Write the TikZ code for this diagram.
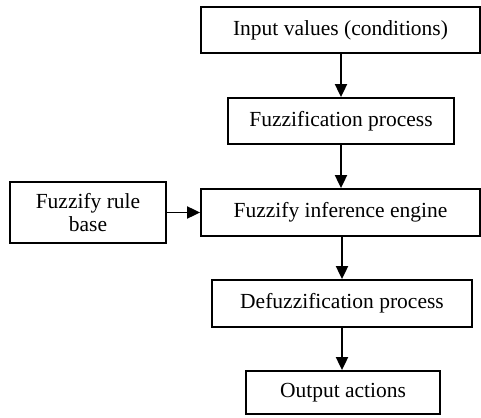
\documentclass[tikz,border=0pt]{standalone}
\usepackage{fontspec}
\setmainfont{Liberation Serif}
\usetikzlibrary{arrows.meta}
\begin{document}
\begin{tikzpicture}[x=1pt,y=1pt,
  box/.style={draw=black, line width=1.8pt, rectangle, inner sep=0pt, align=center, font=\fontsize{21.5}{23}\selectfont},
  arr/.style={line width=1.9pt, -{Triangle[length=13pt,width=12pt]}}]
\useasboundingbox (0,0) rectangle (481,417);
\node[box, minimum width=279pt, minimum height=46pt] (b1) at (340.5,387) {Input values (conditions)};
\node[box, minimum width=226pt, minimum height=46pt] (b2) at (341,296) {Fuzzification process};
\node[box, minimum width=279pt, minimum height=47pt] (b3) at (340.5,204.5) {Fuzzify inference engine};
\node[box, minimum width=156pt, minimum height=61pt] (rb) at (88,204.5) {Fuzzify rule\\base};
\node[box, minimum width=260pt, minimum height=47pt] (b4) at (342,113.5) {Defuzzification process};
\node[box, minimum width=194pt, minimum height=43pt] (b5) at (343,24.5) {Output actions};
\draw[arr] (b1.south -| b2.north) -- (b2.north);
\draw[arr] (b2.south) -- (b2.south |- b3.north);
\draw[arr] (b4.north |- b3.south) -- (b4.north);
\draw[arr] (b4.south) -- (b4.south |- b5.north);
\draw[arr] (rb.east) -- (b3.west);
\end{tikzpicture}
\end{document}
